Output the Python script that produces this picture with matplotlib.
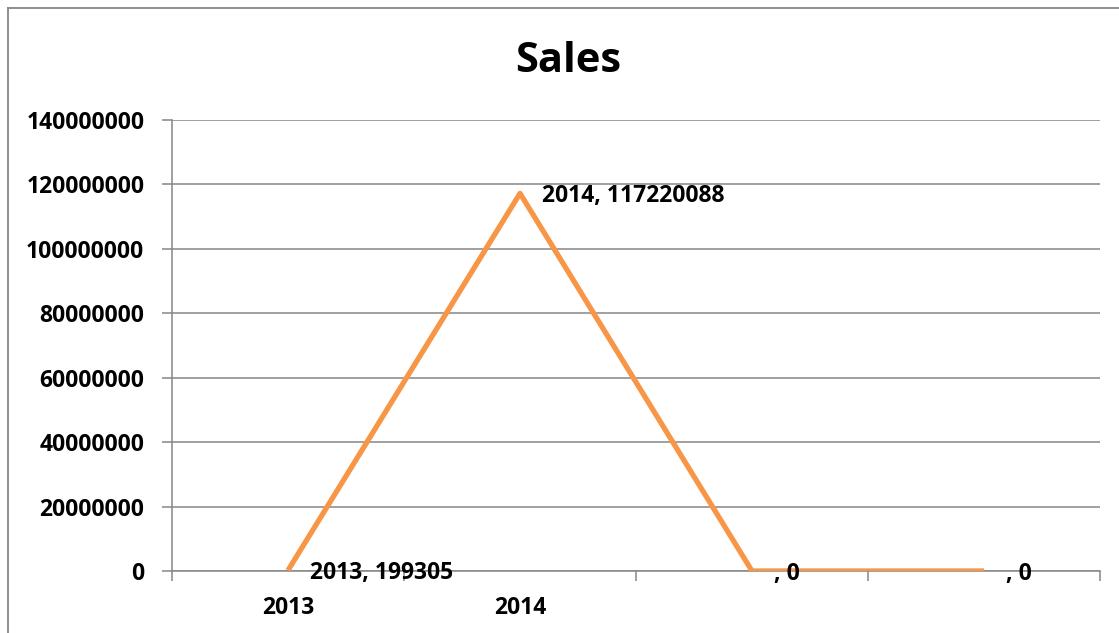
import matplotlib
matplotlib.use("Agg")
import matplotlib.pyplot as plt
from matplotlib.lines import Line2D
from matplotlib.ticker import FixedLocator

# dados
anos = ["2013", "2014", "", ""]
vendas = [199305, 117220088, 0, 0]
y_ticks = [0, 20000000, 40000000, 60000000, 80000000, 100000000, 120000000, 140000000]

LARANJA = "#F79646"
CINZA = "#868686"
FONTE = "Open Sans"
TAM = 16.5

fig = plt.figure(figsize=(11.19, 6.33), dpi=100)
ax = fig.add_axes([172 / 1119, 1 - 571 / 633, (1100 - 172) / 1119, (571 - 120) / 633])

x = list(range(len(vendas)))
ax.plot(x, vendas, color=LARANJA, linewidth=3.8, solid_capstyle="butt", zorder=3)

for xi, ano, v in zip(x, anos, vendas):
    ax.annotate(f"{ano}, {v}", (xi, v), xytext=(16, -2), textcoords="offset points",
                ha="left", va="center", fontsize=TAM, fontweight="bold",
                family=FONTE, color="black", zorder=4)

ax.set_xlim(-0.5, len(vendas) - 0.5)
ax.set_ylim(0, 140000000)
ax.set_yticks(y_ticks)
ax.set_yticklabels([str(t) for t in y_ticks])
ax.yaxis.grid(True, color=CINZA, linewidth=1.1)
ax.set_axisbelow(True)

ax.set_xticks(x)
ax.set_xticklabels(anos)
ax.xaxis.set_minor_locator(FixedLocator([i - 0.5 for i in range(len(vendas) + 1)]))
ax.tick_params(axis="x", which="major", length=0, pad=18)
ax.tick_params(axis="x", which="minor", length=7, color=CINZA, width=1.1, direction="out")
ax.tick_params(axis="y", length=7, color=CINZA, width=1.1, pad=13)

for lbl in ax.get_xticklabels() + ax.get_yticklabels():
    lbl.set_fontsize(TAM)
    lbl.set_fontweight("bold")
    lbl.set_family(FONTE)

for lado in ["top", "right"]:
    ax.spines[lado].set_visible(False)
ax.spines["left"].set_color(CINZA)
ax.spines["left"].set_linewidth(1.1)
ax.spines["bottom"].set_color(CINZA)
ax.spines["bottom"].set_linewidth(1.1)

fig.text(568 / 1119, 1 - 62 / 633, "Sales", ha="center", va="center",
         fontsize=30, fontweight="bold", family=FONTE)

# moldura do gráfico (estilo Excel)
bx, by = 8 / 1119, 1 - 8 / 633
fig.add_artist(Line2D([bx, bx], [0, by], color=CINZA, linewidth=1.3))
fig.add_artist(Line2D([bx, 1], [by, by], color=CINZA, linewidth=1.3))

fig.savefig("out.png", dpi=100)
